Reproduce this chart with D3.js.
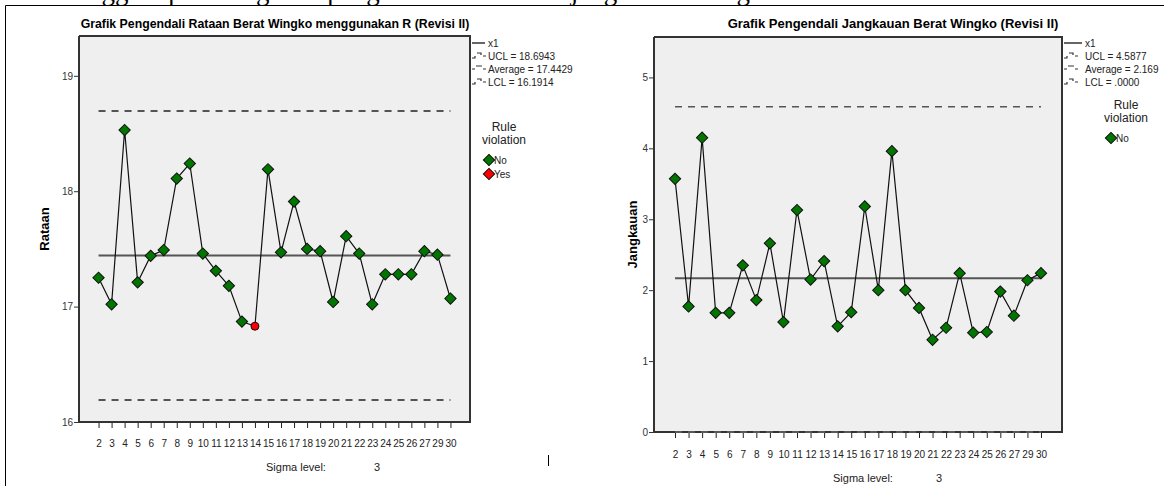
<!DOCTYPE html>
<html>
<head>
<meta charset="utf-8">
<script src="https://cdn.jsdelivr.net/npm/d3@7"></script>
<style>
body { margin: 0; background: #fff; }
svg { display: block; font-family: "Liberation Sans", Arial, sans-serif; }
</style>
</head>
<body>
<svg id="page" width="1164" height="486"></svg>
<script>
// subgroups on the x axis (28 is not there)
var categories = ['2','3','4','5','6','7','8','9','10','11','12','13','14','15','16',
                  '17','18','19','20','21','22','23','24','25','26','27','29','30'];

// mean weight per subgroup
var rataan = [17.25, 17.02, 18.53, 17.21, 17.44, 17.49, 18.11, 18.24, 17.46, 17.31, 17.18, 16.87, 16.83, 18.19,
              17.47, 17.91, 17.50, 17.48, 17.04, 17.61, 17.46, 17.02, 17.28, 17.28, 17.28, 17.48, 17.45, 17.07];
var rataanRule = ['No','No','No','No','No','No','No','No','No','No','No','No','Yes','No',
                  'No','No','No','No','No','No','No','No','No','No','No','No','No','No'];
var rataanLimits = [18.6943, 17.4429, 16.1914]; // UCL, Average, LCL
var rataanTicks = [16, 17, 18, 19];

// range per subgroup
var jangkauan = [3.57, 1.77, 4.15, 1.68, 1.68, 2.35, 1.86, 2.66, 1.55, 3.13, 2.15, 2.41, 1.49, 1.69,
                 3.18, 2.00, 3.96, 2.00, 1.75, 1.30, 1.47, 2.24, 1.40, 1.41, 1.98, 1.64, 2.14, 2.24];
var jangkauanRule = jangkauan.map(function() { return 'No'; });
var jangkauanLimits = [4.5877, 2.169, 0];
var jangkauanTicks = [0, 1, 2, 3, 4, 5];

var legendRataan = ['x1', 'UCL = 18.6943', 'Average = 17.4429', 'LCL = 16.1914'];
var legendJangkauan = ['x1', 'UCL = 4.5877', 'Average = 2.169', 'LCL = .0000'];

var svg = d3.select('#page');

// the document line above the figure, only the bottom of it is visible
svg.append('text')
	.attr('x', 40).attr('y', 0)
	.attr('font-family', '"Liberation Serif", "Times New Roman", serif')
	.attr('font-size', 27)
	.text('Sehingga diperoleh grafik pengendali rataan dan jangkauan sebagai berikut:');

// frame of the pasted pictures
svg.append('path')
	.attr('d', 'M5.5,486V5.5H1164')
	.attr('fill', 'none').attr('stroke', '#000').attr('stroke-width', 1);
svg.append('line').attr('x1', 548.5).attr('x2', 548.5).attr('y1', 455).attr('y2', 466)
	.attr('stroke', '#000');

function drawChart(opt) {
	var g = svg.append('g');
	var x = d3.scalePoint().domain(opt.categories).range([opt.left, opt.right]).padding(opt.pad);
	var y = d3.scaleLinear().domain(opt.yDomain).range([opt.bottom, opt.top]);

	g.append('text')
		.attr('x', opt.titleX).attr('y', 28)
		.attr('text-anchor', 'middle')
		.attr('font-weight', 'bold').attr('font-size', opt.titleSize)
		.text(opt.title);

	g.append('rect')
		.attr('x', opt.left).attr('y', opt.top)
		.attr('width', opt.right - opt.left).attr('height', opt.bottom - opt.top)
		.attr('fill', '#efefef');

	// y axis
	var yAxis = g.append('g')
		.attr('transform', 'translate(' + opt.left + ',0)')
		.call(d3.axisLeft(y).tickValues(opt.yTicks).tickSize(5).tickPadding(1).tickFormat(d3.format('d')));
	yAxis.select('.domain').remove();
	yAxis.selectAll('text').attr('font-size', opt.fontSize).attr('fill', '#333')
		.attr('font-family', '"Liberation Sans", Arial, sans-serif');
	yAxis.selectAll('line').attr('stroke', '#333');

	// x axis
	var xAxis = g.append('g')
		.attr('transform', 'translate(0,' + opt.bottom + ')')
		.call(d3.axisBottom(x).tickSize(6).tickPadding(opt.tickPad));
	xAxis.select('.domain').remove();
	xAxis.selectAll('text').attr('font-size', opt.fontSize).attr('fill', '#222')
		.attr('font-family', '"Liberation Sans", Arial, sans-serif');
	xAxis.selectAll('line').attr('stroke', '#222');

	g.append('text')
		.attr('transform', 'translate(' + opt.yLabelX + ',' + ((opt.top + opt.bottom) / 2) + ') rotate(-90)')
		.attr('text-anchor', 'middle').attr('font-weight', 'bold').attr('font-size', opt.labelSize)
		.text(opt.yLabel);

	var first = x(opt.categories[0]), last = x(opt.categories[opt.categories.length - 1]);

	// control limits
	g.selectAll('line.limit')
		.data(opt.limits)
		.enter().append('line')
		.attr('class', 'limit')
		.attr('x1', first).attr('x2', last)
		.attr('y1', function(d) { return y(d); }).attr('y2', function(d) { return y(d); })
		.attr('stroke', function(d, i) { return i == 1 ? '#555' : opt.dashColor; })
		.attr('stroke-width', function(d, i) { return i == 1 ? 2 : 1.5; })
		.attr('stroke-dasharray', function(d, i) { return i == 1 ? null : '7,6'; });

	// plot border
	g.append('path')
		.attr('d', 'M' + opt.left + ',' + opt.top + 'V' + opt.bottom + 'H' + opt.right + 'V' + opt.top + 'H' + opt.left)
		.attr('fill', 'none').attr('stroke', '#333').attr('stroke-width', 2);
	if (opt.limits[2] == opt.yDomain[0]) {
		g.append('line')
			.attr('x1', first).attr('x2', last)
			.attr('y1', y(opt.limits[2])).attr('y2', y(opt.limits[2]))
			.attr('stroke', '#666').attr('stroke-width', 1.5).attr('stroke-dasharray', '7,6');
	}

	var pts = opt.values.map(function(v, i) { return { c: opt.categories[i], v: v, rule: opt.rule[i] }; });

	g.append('path')
		.datum(pts)
		.attr('fill', 'none').attr('stroke', '#111').attr('stroke-width', 1.2)
		.attr('d', d3.line().x(function(d) { return x(d.c); }).y(function(d) { return y(d.v); }));

	var diamond = d3.symbol().type(d3.symbolSquare).size(64);
	g.selectAll('.pt')
		.data(pts)
		.enter().append('path')
		.attr('class', 'pt')
		.attr('transform', function(d) {
			return 'translate(' + x(d.c) + ',' + y(d.v) + ')' + (d.rule == 'No' ? ' rotate(45)' : '');
		})
		.attr('d', function(d) { return d.rule == 'No' ? diamond() : d3.symbol().type(d3.symbolCircle).size(50)(); })
		.attr('fill', function(d) { return d.rule == 'No' ? '#007500' : '#ff0000'; })
		.attr('stroke', '#111').attr('stroke-width', 1);

	// sigma level
	g.append('text').attr('x', opt.sigmaX).attr('y', opt.sigmaY).attr('font-size', opt.fontSize + 1)
		.attr('fill', '#222').text('Sigma level:');
	g.append('text').attr('x', opt.sigmaX + opt.sigmaGap).attr('y', opt.sigmaY).attr('font-size', opt.fontSize + 1)
		.attr('fill', '#222').text('3');

	// legend
	var lx = opt.right + 2, lt = opt.legendX;
	opt.legend.forEach(function(label, i) {
		var ly = 43 + i * 13;
		if (i == 0) {
			g.append('line').attr('x1', lx).attr('x2', lt - 3).attr('y1', ly).attr('y2', ly)
				.attr('stroke', '#333').attr('stroke-width', 1.5);
		} else if (i == 2) {
			g.append('path').attr('d', 'M' + lx + ',' + ly + 'h3M' + (lx + 4) + ',' + (ly - 3) + 'h6M' + (lx + 11) + ',' + ly + 'h3')
				.attr('fill', 'none').attr('stroke', '#333').attr('stroke-width', 1.2);
		} else {
			g.append('path').attr('d', 'M' + lx + ',' + (ly + 2) + 'h3v-2M' + (lx + 5) + ',' + (ly - 3) + 'h4v2M' + (lx + 11) + ',' + ly + 'h3')
				.attr('fill', 'none').attr('stroke', '#333').attr('stroke-width', 1.2);
		}
		g.append('text').attr('x', lt).attr('y', ly + 4).attr('font-size', opt.fontSize)
			.attr('fill', '#222').text(label);
	});

	g.append('text').attr('x', opt.ruleX).attr('y', opt.ruleY).attr('text-anchor', 'middle')
		.attr('font-size', opt.fontSize + 2).attr('fill', '#222').text('Rule');
	g.append('text').attr('x', opt.ruleX).attr('y', opt.ruleY + 13).attr('text-anchor', 'middle')
		.attr('font-size', opt.fontSize + 2).attr('fill', '#222').text('violation');

	var ruleKinds = opt.rule.indexOf('Yes') >= 0 ? ['No', 'Yes'] : ['No'];
	ruleKinds.forEach(function(k, i) {
		var ky = opt.ruleY + 29 + i * 14;
		g.append('path')
			.attr('transform', 'translate(' + (opt.ruleX - 15) + ',' + ky + ') rotate(45)')
			.attr('d', diamond())
			.attr('fill', k == 'No' ? '#007500' : '#ff0000')
			.attr('stroke', '#111');
		g.append('text').attr('x', opt.ruleX - 10).attr('y', ky + 4).attr('font-size', opt.fontSize)
			.attr('fill', '#222').text(k);
	});
}

drawChart({
	title: 'Grafik Pengendali Rataan Berat Wingko menggunakan R (Revisi II)',
	titleX: 275, titleSize: 12.3,
	yLabel: 'Rataan', yLabelX: 49, labelSize: 13,
	categories: categories, values: rataan, rule: rataanRule,
	limits: rataanLimits, yDomain: [16, 19.345], yTicks: rataanTicks,
	left: 79, right: 470, top: 36, bottom: 422, pad: 1.5,
	fontSize: 10, tickPad: 12, dashColor: '#222',
	sigmaX: 266, sigmaY: 471, sigmaGap: 108,
	legend: legendRataan, legendX: 488,
	ruleX: 504, ruleY: 131
});

drawChart({
	title: 'Grafik Pengendali Jangkauan Berat Wingko (Revisi II)',
	titleX: 893, titleSize: 13,
	yLabel: 'Jangkauan', yLabelX: 637, labelSize: 13,
	categories: categories, values: jangkauan, rule: jangkauanRule,
	limits: jangkauanLimits, yDomain: [0, 5.57], yTicks: jangkauanTicks,
	left: 654, right: 1062, top: 37, bottom: 432, pad: 1.55,
	fontSize: 10, tickPad: 13, dashColor: '#555',
	sigmaX: 833, sigmaY: 482, sigmaGap: 103,
	legend: legendJangkauan, legendX: 1085,
	ruleX: 1126, ruleY: 109
});
</script>
</body>
</html>
